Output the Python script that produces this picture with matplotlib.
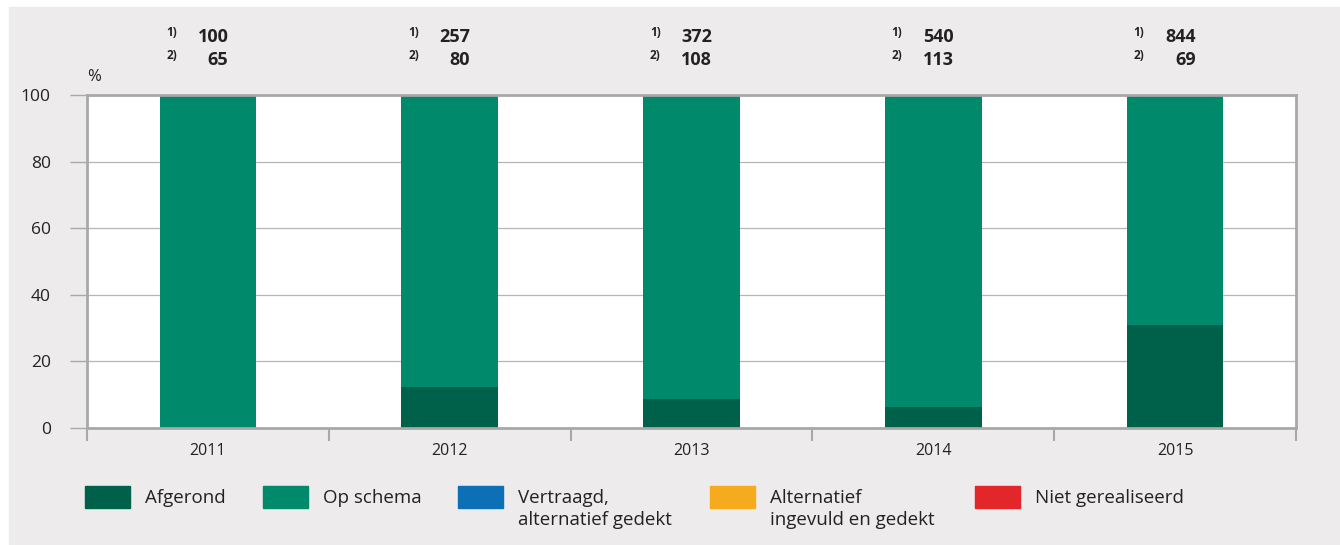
import matplotlib.pyplot as plt
import matplotlib.patches as mpatches
import numpy as np

plt.rcParams['font.family'] = ['Open Sans', 'DejaVu Sans']

years = ['2011', '2012', '2013', '2014', '2015']
afgerond = [0, 12.3, 8.7, 6.3, 30.9]
op_schema = [100, 87.7, 91.3, 93.7, 69.1]
vertraagd = [0, 0, 0, 0, 0]
alternatief = [0, 0, 0, 0, 0]
niet_gerealiseerd = [0, 0, 0, 0, 0]
count_1 = ['100', '257', '372', '540', '844']
count_2 = ['65', '80', '108', '113', '69']

series_labels = ['Afgerond', 'Op schema', 'Vertraagd,\nalternatief gedekt',
                 'Alternatief\ningevuld en gedekt', 'Niet gerealiseerd']
colors = ['#00614A', '#00896B', '#0D70B7', '#F6AA1E', '#E3262A']
axis_grey = '#A8A8A8'
bg = '#EDEBEC'

fig = plt.figure(figsize=(13.4, 5.45), dpi=100)
fig.patches.append(mpatches.Rectangle((9 / 1340, 0), 1 - 9 / 1340, 1 - 7 / 545,
                                      transform=fig.transFigure, color=bg, zorder=-10))

ax = fig.add_axes([87 / 1340, 1 - 428 / 545, 1209 / 1340, 333 / 545])
ax.set_facecolor('white')

x = np.arange(len(years))
bottom = np.zeros(len(years))
for vals, col in zip([afgerond, op_schema, vertraagd, alternatief, niet_gerealiseerd], colors):
    ax.bar(x, vals, width=0.4, bottom=bottom, color=col, zorder=3)
    bottom += np.array(vals)

ax.set_xlim(-0.5, 4.5)
ax.set_ylim(0, 100)
ax.set_yticks([0, 20, 40, 60, 80, 100])
ax.set_yticklabels(['0', '20', '40', '60', '80', '100'], fontsize=12.5, color='#222222')
ax.yaxis.grid(True, color='#B5B5B5', linewidth=0.9, zorder=0)
ax.tick_params(axis='y', length=12, width=1.0, color='#A8A8A8', pad=14)

ax.set_xticks(x)
ax.set_xticklabels(years, fontsize=11.5, color='#222222')
ax.set_xticks(np.arange(-0.5, 5, 1), minor=True)
ax.tick_params(axis='x', which='major', length=0, pad=11)
ax.tick_params(axis='x', which='minor', length=9, width=1.5, color=axis_grey)

for s in ax.spines.values():
    s.set_color(axis_grey)
    s.set_linewidth(2)
    s.set_zorder(4)

ax.text(-0.5, 105.4, '%', fontsize=12, color='#222222', ha='left', va='center')

for i in range(len(years)):
    ax.text(i - 0.15, 118.8, '1)', fontsize=8.5, fontweight='bold', ha='center', va='center',
            color='#222222', clip_on=False)
    ax.text(i + 0.085, 117.4, count_1[i], fontsize=13, fontweight='bold', ha='right', va='center',
            color='#222222', clip_on=False)
    ax.text(i - 0.15, 111.9, '2)', fontsize=8.5, fontweight='bold', ha='center', va='center',
            color='#222222', clip_on=False)
    ax.text(i + 0.085, 110.5, count_2[i], fontsize=13, fontweight='bold', ha='right', va='center',
            color='#222222', clip_on=False)

legend_x = [85, 263, 458, 710, 975]
for lx, lab, col in zip(legend_x, series_labels, colors):
    fig.patches.append(mpatches.Rectangle((lx / 1340, 1 - 508 / 545), 45 / 1340, 22 / 545,
                                          transform=fig.transFigure, color=col))
    fig.text((lx + 60) / 1340, 1 - 489 / 545, lab, fontsize=13.5, color='#222222',
             ha='left', va='top', linespacing=1.3)

fig.savefig('out.png', dpi=100)
